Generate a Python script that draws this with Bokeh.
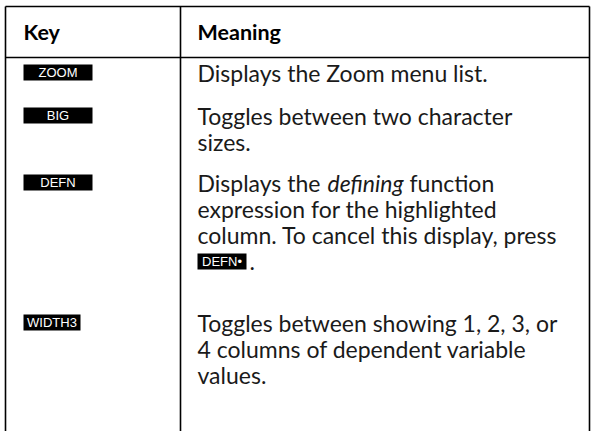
from bokeh.plotting import figure
from bokeh.models import Range1d, ColumnDataSource
from bokeh.core.properties import value
from bokeh.embed import file_html
from bokeh.resources import INLINE

# ---- table content ----
header = ["Key", "Meaning"]
keys = ["ZOOM", "BIG", "DEFN", "WIDTH3"]
meaning_lines = [
    ["Displays the Zoom menu list."],
    ["Toggles between two character", "sizes."],
    ["Displays the ", "expression for the highlighted", "column. To cancel this display, press"],
    ["Toggles between showing 1, 2, 3, or", "4 columns of dependent variable", "values."],
]
italic_word = "defining"
tail_word = "function"
inline_key = "DEFN\u2022"

# ---- layout (page pixels) ----
W, H = 594, 431
X0, X1, XDIV = 5, 589, 180
Y_TOP, Y_HEAD = 6, 57
KEY_X, TXT_X = 23, 197
row_y = [72, 115, 182, 322]
LINE_H = 26.3
badge_w = [69, 69, 69, 57]
BADGE_H = 16
FONT = "Lato"
BODY_SIZE = "23px"

p = figure(width=W, height=H, x_range=Range1d(0, W), y_range=Range1d(H, 0),
           output_backend="svg", toolbar_location=None, min_border=0,
           x_axis_location=None, y_axis_location=None)
p.grid.visible = False
p.outline_line_color = None
p.background_fill_color = "white"
p.border_fill_color = "white"

# borders
p.segment(x0=[X0, X0, XDIV, X1, X0], y0=[Y_TOP, Y_TOP, Y_TOP, Y_TOP, Y_HEAD],
          x1=[X0, X1, XDIV, X1, X1], y1=[H + 2, Y_TOP, H + 2, H + 2, Y_HEAD],
          line_color="black", line_width=1.6)

# header
p.text(x=[KEY_X, TXT_X], y=[31, 31], text=header, text_font=value(FONT),
       text_font_size="21.5px", text_font_style="bold", text_baseline="middle", text_color="black")

# key badges
bsrc = ColumnDataSource(dict(x=[KEY_X + w / 2 for w in badge_w], y=row_y, w=badge_w, t=keys))
p.rect(x="x", y="y", width="w", height=BADGE_H, source=bsrc, fill_color="black", line_color=None)
p.text(x="x", y="y", text="t", source=bsrc, text_font=value("Liberation Sans"),
       text_font_size="13px", text_align="center", text_baseline="middle", text_color="white")

# meaning lines
xs, ys, ts = [], [], []
for r, lines in enumerate(meaning_lines):
    for i, t in enumerate(lines):
        xs.append(TXT_X)
        ys.append(row_y[r] + i * LINE_H)
        ts.append(t)
p.text(x=xs, y=ys, text=ts, text_font=value(FONT), text_font_size=BODY_SIZE,
       text_baseline="middle", text_color="#1a1a1a")

# italic word in DEFN row
p.text(x=[327], y=[row_y[2]], text=[italic_word], text_font=value(FONT), text_font_size=BODY_SIZE,
       text_font_style="italic", text_baseline="middle", text_color="#1a1a1a")
p.text(x=[409], y=[row_y[2]], text=[tail_word], text_font=value(FONT), text_font_size=BODY_SIZE,
       text_baseline="middle", text_color="#1a1a1a")

# inline key badge
iy = row_y[2] + 3 * LINE_H
p.rect(x=[TXT_X + 24.5], y=[iy], width=[49], height=[BADGE_H], fill_color="black", line_color=None)
p.text(x=[TXT_X + 24.5], y=[iy], text=[inline_key], text_font=value("Liberation Sans"),
       text_font_size="13px", text_align="center", text_baseline="middle", text_color="white")
p.text(x=[TXT_X + 52], y=[iy], text=["."], text_font=value(FONT), text_font_size=BODY_SIZE,
       text_baseline="middle", text_color="#1a1a1a")

open("out.html", "w").write(file_html(p, INLINE))
